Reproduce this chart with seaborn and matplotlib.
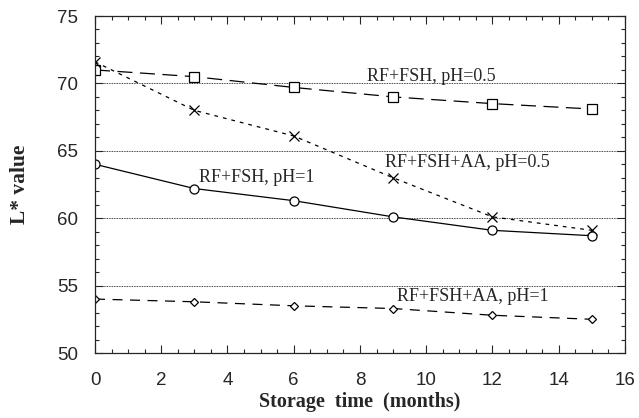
import matplotlib
matplotlib.use("Agg")
import matplotlib.pyplot as plt
import numpy as np
import pandas as pd
import seaborn as sns
from matplotlib.ticker import MultipleLocator

# storage time (months)
months = [0, 3, 6, 9, 12, 15]

# L* values
rf_fsh_ph05 = [71.0, 70.5, 69.7, 69.0, 68.5, 68.1]
rf_fsh_aa_ph05 = [71.6, 68.0, 66.1, 63.0, 60.1, 59.1]
rf_fsh_ph1 = [64.0, 62.2, 61.3, 60.1, 59.1, 58.7]
rf_fsh_aa_ph1 = [54.0, 53.8, 53.5, 53.3, 52.8, 52.5]

series_names = ["RF+FSH, pH=0.5", "RF+FSH+AA, pH=0.5", "RF+FSH, pH=1", "RF+FSH+AA, pH=1"]
series_values = [rf_fsh_ph05, rf_fsh_aa_ph05, rf_fsh_ph1, rf_fsh_aa_ph1]

df = pd.DataFrame(
    {
        "months": months * len(series_names),
        "L": np.concatenate(series_values),
        "series": np.repeat(series_names, len(months)),
    }
)

styles = {
    "RF+FSH, pH=0.5": dict(marker="s", dashes=(12, 6), ms=6.8),
    "RF+FSH+AA, pH=0.5": dict(marker="x", dashes=(3, 4), ms=6.5),
    "RF+FSH, pH=1": dict(marker="o", dashes=None, ms=6.5),
    "RF+FSH+AA, pH=1": dict(marker="D", dashes=(8, 6), ms=4.5),
}

# annotation anchor (data coords), placed next to the curves
label_pos = {
    "RF+FSH, pH=0.5": (8.2, 70.5),
    "RF+FSH+AA, pH=0.5": (8.75, 64.15),
    "RF+FSH, pH=1": (3.14, 63.0),
    "RF+FSH+AA, pH=1": (9.12, 54.2),
}

sns.set_style("ticks")
plt.rcParams["font.family"] = ["Liberation Sans", "DejaVu Sans"]
plt.rcParams["xtick.direction"] = "in"
plt.rcParams["ytick.direction"] = "in"

fig = plt.figure(figsize=(6.39, 4.18), dpi=100)
ax = fig.add_axes([0.1487, 0.1555, 0.8293, 0.8062])

for y in [55, 60, 65, 70]:
    ax.axhline(y, color="black", linestyle=(0, (1, 1)), linewidth=0.6, zorder=0)

for name in series_names:
    st = styles[name]
    sub = df[df["series"] == name]
    sns.lineplot(data=sub, x="months", y="L", ax=ax, color="black", linewidth=0.9,
                 marker=st["marker"], markersize=st["ms"], markerfacecolor="white",
                 markeredgecolor="black", markeredgewidth=0.9, legend=False)
    line = ax.lines[-1]
    if st["dashes"] is not None:
        line.set_dashes(st["dashes"])
    x0, y0 = label_pos[name]
    ax.text(x0, y0, name, family=["Liberation Serif"], fontsize=13, ha="left", va="center")

ax.set_xlim(0, 16)
ax.set_ylim(50, 75)
ax.xaxis.set_major_locator(MultipleLocator(2))
ax.xaxis.set_minor_locator(MultipleLocator(0.5))
ax.yaxis.set_major_locator(MultipleLocator(5))
ax.yaxis.set_minor_locator(MultipleLocator(1))
ax.tick_params(which="both", top=True, right=True, direction="in", width=0.8)
ax.tick_params(which="major", length=6, labelsize=13.5)
ax.tick_params(which="minor", length=3)
ax.tick_params(axis="x", which="major", pad=14)
ax.tick_params(axis="y", which="major", pad=12)
for sp in ax.spines.values():
    sp.set_linewidth(0.9)

ax.set_xlabel("Storage  time  (months)", family=["Liberation Serif"], fontweight="bold", fontsize=14.5, labelpad=2)
ax.set_ylabel("L* value", family=["Liberation Serif"], fontweight="bold", fontsize=15.5, labelpad=20)

fig.savefig("out.png", dpi=100)
